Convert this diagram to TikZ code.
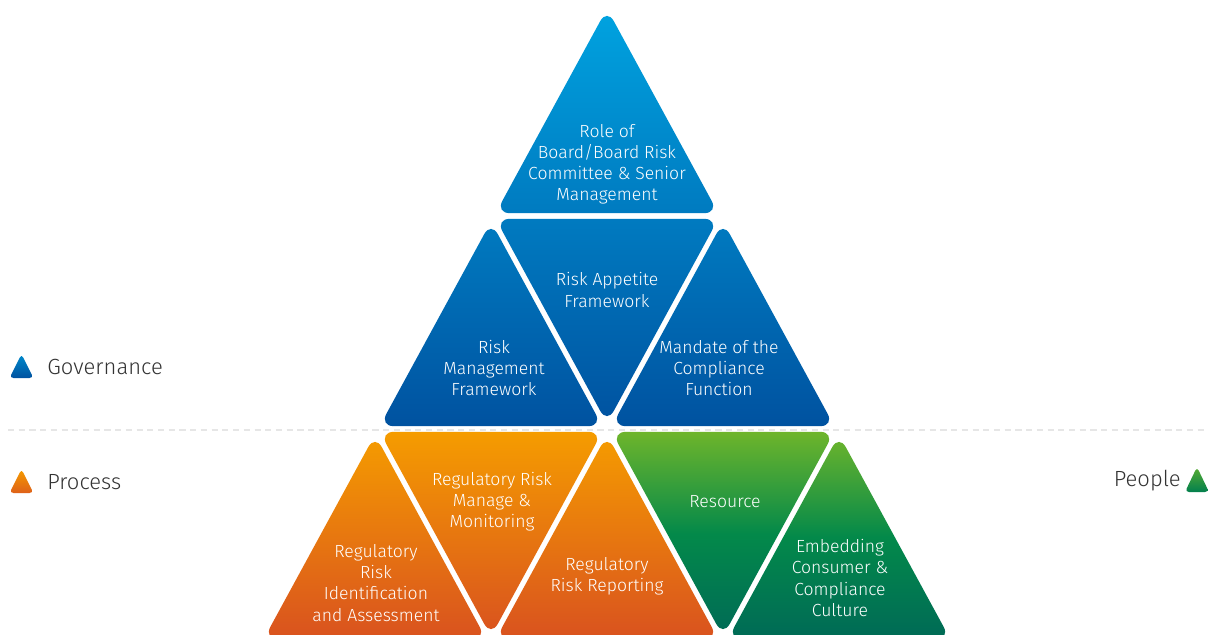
\documentclass[tikz,border=0pt]{standalone}
\usepackage{fontspec}
\setmainfont{Fira Sans Light}
\usetikzlibrary{calc}
\definecolor{bluetop}{HTML}{00A3E0}
\definecolor{bluebot}{HTML}{0052A0}
\colorlet{bluemid}{bluetop!50!bluebot}
\definecolor{orgtop}{HTML}{F59C00}
\definecolor{orgbot}{HTML}{D9521F}
\definecolor{grntop}{HTML}{6EB52B}
\definecolor{grnmid}{HTML}{03894A}
\definecolor{grnbot}{HTML}{006A56}
\definecolor{dashgray}{HTML}{E6E6E6}
\definecolor{legtext}{HTML}{333333}
\tikzset{
 tri/.style={rounded corners=8pt},
 bfillA/.style={tri, top color=bluetop, bottom color=bluemid},
 bfillB/.style={tri, top color=bluemid, bottom color=bluebot},
 ofill/.style={tri, top color=orgtop, bottom color=orgbot},
 gfill/.style={tri, top color=grntop, bottom color=grnbot, middle color=grnmid},
 lbl/.style={text=white, align=center, font=\fontsize{10}{12}\selectfont, inner sep=0pt},
 legend/.style={text=legtext, font=\fontsize{12.5}{15}\selectfont, inner sep=0pt},
 icon/.style={rounded corners=2.2pt},
}
\newcommand{\mytri}[5]{%
  \coordinate (#1) at ($1/3*(#2)+1/3*(#3)+1/3*(#4)$);
  \path[#5] ($(#1)!0.96!(#2)$) -- ($(#1)!0.96!(#3)$) -- ($(#1)!0.96!(#4)$) -- cycle;}
\begin{document}
\begin{tikzpicture}[x=0.02cm,y=-0.02cm]
\useasboundingbox[fill=white] (0,0) rectangle (1208,635);
% dashed divider
\coordinate (dL) at (8,430);
\coordinate (dR) at (1205,430);
\draw[dashgray, line width=1.7pt, dash pattern=on 3.5pt off 2.6pt] (dL) -- (dR);
% governance
\mytri{t1}{607,3}{491,216}{723,216}{bfillA}
\mytri{t2l}{491,216}{375,429}{607,429}{bfillB}
\mytri{t2m}{491,216}{723,216}{607,429}{bfillB}
\mytri{t2r}{723,216}{607,429}{839,429}{bfillB}
% process
\mytri{t3a}{375,429}{259,642}{491,642}{ofill}
\mytri{t3b}{375,429}{607,429}{491,642}{ofill}
\mytri{t3c}{607,429}{491,642}{723,642}{ofill}
% people
\mytri{t3d}{607,429}{839,429}{723,642}{gfill}
\mytri{t3e}{839,429}{723,642}{955,642}{gfill}
% labels
\node[lbl] (l1) at (607,164) {Role of\\Board/Board Risk\\Committee \& Senior\\Management};
\node[lbl] (l2l) at (494,368) {Risk\\Management\\Framework};
\node[lbl] (l2m) at (607,290) {Risk Appetite\\Framework};
\node[lbl] (l2r) at (719,368) {Mandate of the\\Compliance\\Function};
\node[lbl] (l3b) at (492,502) {Regulatory Risk\\Manage \&\\Monitoring};
\node[lbl] (l3a) at (376,583) {Regulatory\\Risk\\Identification\\and Assessment};
\node[lbl] (l3c) at (607,576) {Regulatory\\Risk Reporting};
\node[lbl] (l3d) at (725,502) {Resource};
\node[lbl] (l3e) at (840,578) {Embedding\\Consumer \&\\Compliance\\Culture};
% legend
\path[icon, top color=bluetop!70!bluebot, bottom color=bluebot] (21.5,354) -- (9.5,378) -- (33.5,378) -- cycle;
\node[legend, anchor=west] (gov) at (47,367) {Governance};
\path[icon, top color=orgtop, bottom color=orgbot!80!orgtop] (21.5,469) -- (9.5,493) -- (33.5,493) -- cycle;
\node[legend, anchor=west] (proc) at (47,482) {Process};
\node[legend, anchor=east] (ppl) at (1181,481) {People};
\path[icon, top color=grntop!80!grnmid, bottom color=grnmid!70!grnbot] (1197,467) -- (1185,492) -- (1209,492) -- cycle;
\end{tikzpicture}
\end{document}
